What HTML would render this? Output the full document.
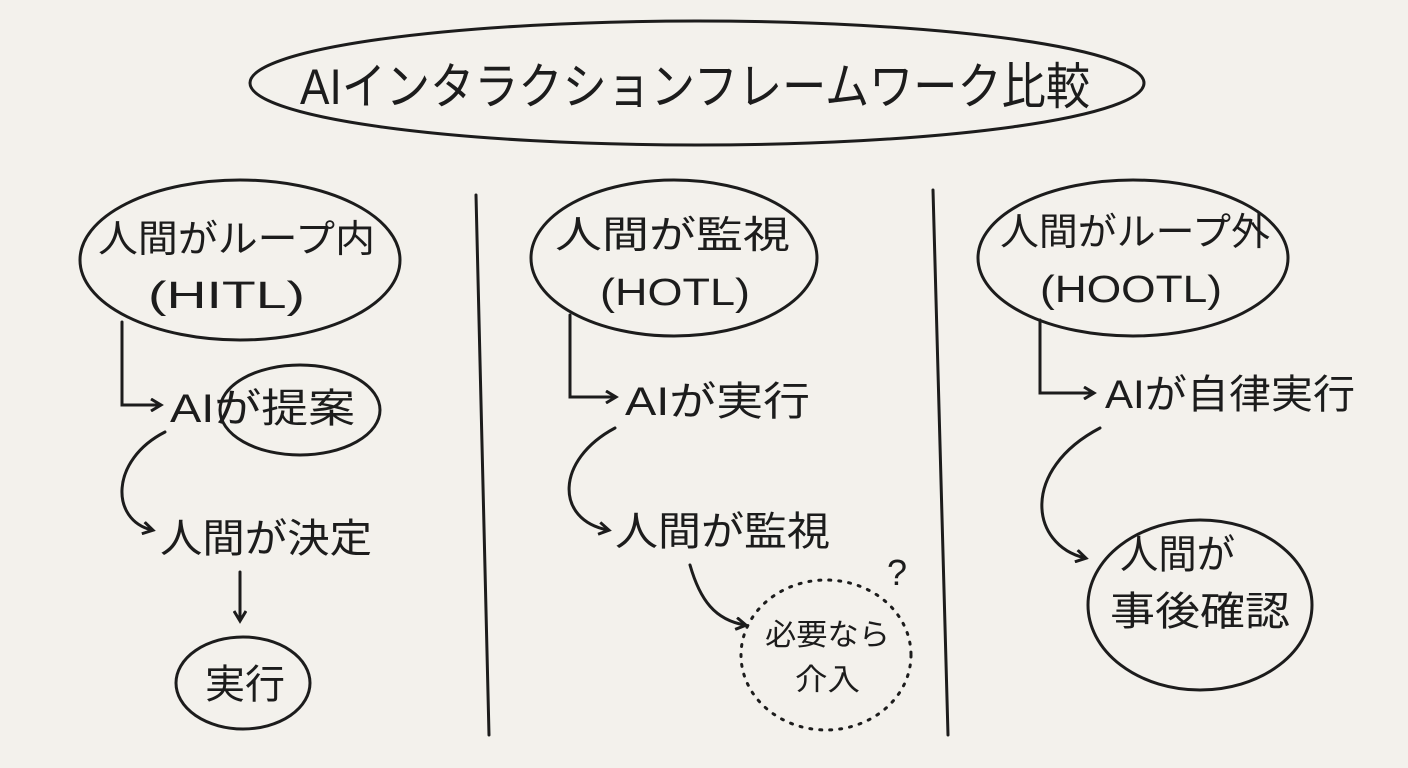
<!DOCTYPE html>
<html><head><meta charset="utf-8"><style>
html,body{margin:0;padding:0;background:#f3f1ec;}
svg{display:block}
text{font-family:"Liberation Sans","Noto Sans CJK JP",sans-serif;fill:#1c1c1c;}
</style></head><body>
<svg width="1408" height="768" viewBox="0 0 1408 768" xmlns="http://www.w3.org/2000/svg">
<rect width="1408" height="768" fill="#f3f1ec"/>
<defs><marker id="a" markerWidth="14" markerHeight="14" refX="10" refY="7" orient="auto" markerUnits="userSpaceOnUse"><path d="M1,1 L11,7 L1,13" fill="none" stroke="#1c1c1c" stroke-width="3"/></marker></defs>
<g fill="none" stroke="#1c1c1c" stroke-width="3" stroke-linecap="round">
<ellipse cx="697" cy="83" rx="447" ry="62"/>
<line x1="476" y1="195" x2="489" y2="735"/>
<line x1="933" y1="190" x2="948" y2="735"/>
<ellipse cx="240" cy="260" rx="160" ry="80"/>
<path d="M122 322 L122 405 L160 405" marker-end="url(#a)"/>
<ellipse cx="300" cy="410" rx="80" ry="45"/>
<path d="M165 432 C110 460 110 520 152 530" marker-end="url(#a)"/>
<path d="M240 572 L240 620" marker-end="url(#a)"/>
<ellipse cx="243" cy="683" rx="67" ry="46"/>
<ellipse cx="674" cy="258" rx="143" ry="78"/>
<path d="M570 315 L570 397 L615 397" marker-end="url(#a)"/>
<path d="M615 428 C555 460 555 520 608 530" marker-end="url(#a)"/>
<path d="M690 565 C700 600 715 620 745 625" marker-end="url(#a)"/>
<ellipse cx="826" cy="655" rx="85" ry="75" stroke-dasharray="2 8"/>
<ellipse cx="1133" cy="258" rx="155" ry="78"/>
<path d="M1040 320 L1040 393 L1093 393" marker-end="url(#a)"/>
<path d="M1100 428 C1020 470 1030 545 1085 558" marker-end="url(#a)"/>
<ellipse cx="1200" cy="605" rx="112" ry="85"/>
</g>
<g lengthAdjust="spacingAndGlyphs">
<text x="300" y="104" font-size="50" textLength="790" lengthAdjust="spacingAndGlyphs">AIインタラクションフレームワーク比較</text>
<text x="98" y="252" font-size="38" textLength="277" lengthAdjust="spacingAndGlyphs">人間がループ内</text>
<text x="148" y="308" font-size="38" textLength="157" lengthAdjust="spacingAndGlyphs">(HITL)</text>
<text x="170" y="422" font-size="40" textLength="185" lengthAdjust="spacingAndGlyphs">AIが提案</text>
<text x="160" y="552" font-size="40" textLength="212" lengthAdjust="spacingAndGlyphs">人間が決定</text>
<text x="205" y="698" font-size="40" textLength="80" lengthAdjust="spacingAndGlyphs">実行</text>
<text x="555" y="248" font-size="38" textLength="235" lengthAdjust="spacingAndGlyphs">人間が監視</text>
<text x="600" y="305" font-size="38" textLength="150" lengthAdjust="spacingAndGlyphs">(HOTL)</text>
<text x="625" y="415" font-size="40" textLength="185" lengthAdjust="spacingAndGlyphs">AIが実行</text>
<text x="615" y="545" font-size="40" textLength="215" lengthAdjust="spacingAndGlyphs">人間が監視</text>
<text x="765" y="645" font-size="30" textLength="125" lengthAdjust="spacingAndGlyphs">必要なら</text>
<text x="795" y="690" font-size="30" textLength="65" lengthAdjust="spacingAndGlyphs">介入</text>
<text x="897" y="585" font-size="36" text-anchor="middle">?</text>
<text x="1000" y="245" font-size="38" textLength="270" lengthAdjust="spacingAndGlyphs">人間がループ外</text>
<text x="1040" y="302" font-size="38" textLength="182" lengthAdjust="spacingAndGlyphs">(HOOTL)</text>
<text x="1105" y="408" font-size="40" textLength="250" lengthAdjust="spacingAndGlyphs">AIが自律実行</text>
<text x="1120" y="568" font-size="40" textLength="115" lengthAdjust="spacingAndGlyphs">人間が</text>
<text x="1110" y="625" font-size="40" textLength="180" lengthAdjust="spacingAndGlyphs">事後確認</text>
</g>
</svg>
</body></html>
